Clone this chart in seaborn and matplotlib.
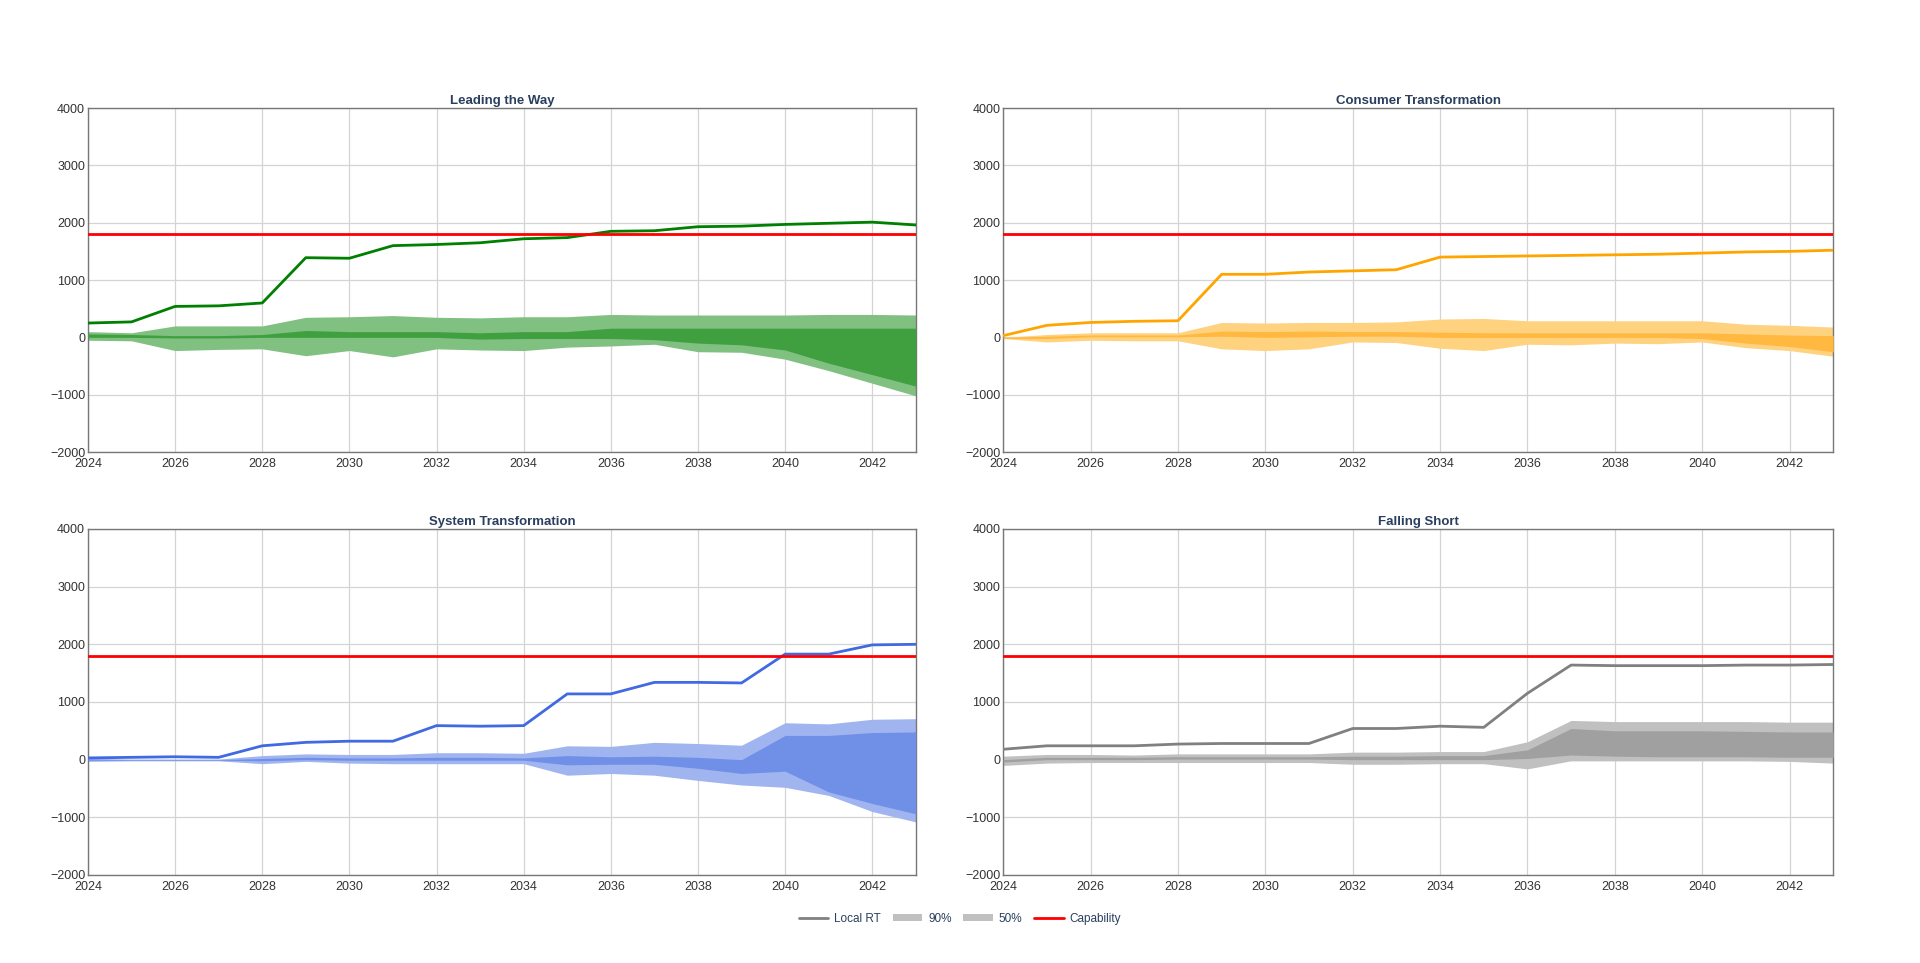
import matplotlib
matplotlib.use("Agg")
import matplotlib.pyplot as plt
from matplotlib.lines import Line2D
from matplotlib.patches import Patch
import pandas as pd
import seaborn as sns

years = list(range(2024, 2044))
capability = [1800] * len(years)

titles = ["Leading the Way", "Consumer Transformation", "System Transformation", "Falling Short"]

# Leading the Way
ltw_rt = [250, 270, 540, 550, 600, 1390, 1380, 1600, 1620, 1650, 1720, 1740, 1850, 1860, 1930, 1940, 1970, 1990, 2010, 1960]
ltw_90_hi = [100, 80, 200, 200, 200, 350, 360, 380, 350, 340, 360, 360, 400, 390, 390, 390, 390, 400, 400, 390]
ltw_90_lo = [-50, -60, -230, -210, -200, -320, -230, -340, -200, -220, -230, -170, -150, -120, -250, -260, -380, -580, -800, -1020]
ltw_50_hi = [60, 50, 30, 30, 50, 120, 100, 100, 100, 80, 100, 100, 160, 160, 160, 160, 160, 160, 160, 160]
ltw_50_lo = [0, 0, -10, -10, 0, 0, 0, 0, 0, -30, -20, -20, -20, -40, -100, -130, -220, -450, -650, -850]

# Consumer Transformation
ct_rt = [30, 210, 260, 280, 290, 1100, 1100, 1140, 1160, 1180, 1400, 1410, 1420, 1430, 1440, 1450, 1470, 1490, 1500, 1520]
ct_90_hi = [0, 50, 80, 80, 80, 260, 250, 260, 260, 270, 320, 330, 290, 290, 290, 290, 290, 230, 210, 180]
ct_90_lo = [-20, -80, -50, -60, -60, -200, -230, -200, -80, -90, -190, -230, -120, -130, -100, -110, -80, -180, -230, -330]
ct_50_hi = [0, 20, 40, 40, 40, 110, 100, 110, 100, 100, 90, 80, 80, 80, 80, 80, 80, 60, 40, 30]
ct_50_lo = [-20, -20, 10, 10, 10, 20, 0, 10, 20, 20, 0, 0, 0, 0, 0, 0, -20, -100, -160, -250]

# System Transformation
st_rt = [30, 40, 50, 40, 240, 300, 320, 320, 590, 580, 590, 1140, 1140, 1340, 1340, 1330, 1830, 1830, 1990, 2000]
st_90_hi = [20, 10, 10, 10, 70, 100, 90, 90, 120, 120, 110, 240, 230, 300, 280, 250, 640, 620, 700, 710]
st_90_lo = [-30, -20, -20, -20, -70, -30, -60, -70, -70, -70, -70, -270, -240, -270, -360, -440, -480, -620, -900, -1080]
st_50_hi = [10, 0, 0, 0, 20, 40, 30, 30, 40, 40, 30, 70, 50, 60, 40, 0, 420, 420, 470, 480]
st_50_lo = [-10, -10, -10, -10, -20, 0, -10, -10, -10, -10, -10, -90, -80, -80, -150, -240, -200, -560, -760, -940]

# Falling Short
fs_rt = [180, 240, 240, 240, 270, 280, 280, 280, 540, 540, 580, 560, 1150, 1640, 1630, 1630, 1630, 1640, 1640, 1650]
fs_90_hi = [60, 90, 90, 80, 100, 100, 100, 100, 130, 130, 140, 140, 310, 680, 660, 660, 660, 660, 650, 650]
fs_90_lo = [-100, -60, -50, -50, -50, -50, -50, -50, -80, -80, -70, -70, -160, -20, -20, -20, -20, -20, -30, -60]
fs_50_hi = [0, 40, 40, 40, 50, 50, 50, 50, 60, 60, 70, 70, 170, 540, 500, 500, 500, 490, 480, 480]
fs_50_lo = [-40, 0, 0, 0, 10, 10, 10, 10, 0, 0, 0, 0, 20, 80, 60, 50, 50, 50, 40, 40]

panels = [
    (ltw_rt, ltw_90_lo, ltw_90_hi, ltw_50_lo, ltw_50_hi, "#008000", "#80c080", "#40a040"),
    (ct_rt, ct_90_lo, ct_90_hi, ct_50_lo, ct_50_hi, "#ffa500", "#ffd280", "#ffb840"),
    (st_rt, st_90_lo, st_90_hi, st_50_lo, st_50_hi, "#4169e1", "#a0b4f0", "#7090e8"),
    (fs_rt, fs_90_lo, fs_90_hi, fs_50_lo, fs_50_hi, "#808080", "#c0c0c0", "#a0a0a0"),
]

sns.set_theme(style="whitegrid")
plt.rcParams["font.family"] = ["Liberation Sans", "DejaVu Sans"]
text_col = "#2a3f5f"

fig = plt.figure(figsize=(19.2, 9.63), dpi=100)
positions = [
    [0.0458, 0.5306, 0.4312, 0.3572],
    [0.5225, 0.5306, 0.4323, 0.3572],
    [0.0458, 0.0914, 0.4312, 0.3593],
    [0.5225, 0.0914, 0.4323, 0.3593],
]

for pos, title, (rt, lo90, hi90, lo50, hi50, line_c, c90, c50) in zip(positions, titles, panels):
    ax = fig.add_axes(pos)
    df = pd.DataFrame({"year": years, "rt": rt, "lo90": lo90, "hi90": hi90,
                       "lo50": lo50, "hi50": hi50, "cap": capability})
    ax.fill_between(df["year"], df["lo90"], df["hi90"], color=c90, linewidth=0, zorder=2)
    ax.fill_between(df["year"], df["lo50"], df["hi50"], color=c50, linewidth=0, zorder=3)
    sns.lineplot(data=df, x="year", y="rt", ax=ax, color=line_c, linewidth=2, zorder=4)
    sns.lineplot(data=df, x="year", y="cap", ax=ax, color="#ff0000", linewidth=2, zorder=5)
    ax.set_xlim(2024, 2043)
    ax.set_ylim(-2000, 4000)
    ax.set_xticks(range(2024, 2043, 2))
    ax.set_yticks(range(-2000, 4001, 1000))
    ax.set_xlabel("")
    ax.set_ylabel("")
    ax.set_title(title, fontsize=9.5, fontweight="bold", color=text_col, pad=3)
    ax.grid(True, color="#d4d4d4", linewidth=0.9)
    ax.tick_params(axis="both", length=0, labelsize=9, colors="#333333")
    ax.tick_params(axis="x", pad=4)
    ax.tick_params(axis="y", pad=2)
    for s in ax.spines.values():
        s.set_color("#777777")
        s.set_linewidth(1)

handles = [
    Line2D([0], [0], color="#808080", linewidth=2),
    Patch(facecolor="#c0c0c0", edgecolor="none"),
    Patch(facecolor="#c0c0c0", edgecolor="none"),
    Line2D([0], [0], color="#ff0000", linewidth=2),
]
leg = fig.legend(handles, ["Local RT", "90%", "50%", "Capability"], loc="center",
                 bbox_to_anchor=(0.5, 0.046), ncol=4, frameon=False, fontsize=8.5,
                 handlelength=2.5, handleheight=0.5, columnspacing=1.0, handletextpad=0.5)
for t in leg.get_texts():
    t.set_color(text_col)

fig.savefig("out.png", dpi=100)
